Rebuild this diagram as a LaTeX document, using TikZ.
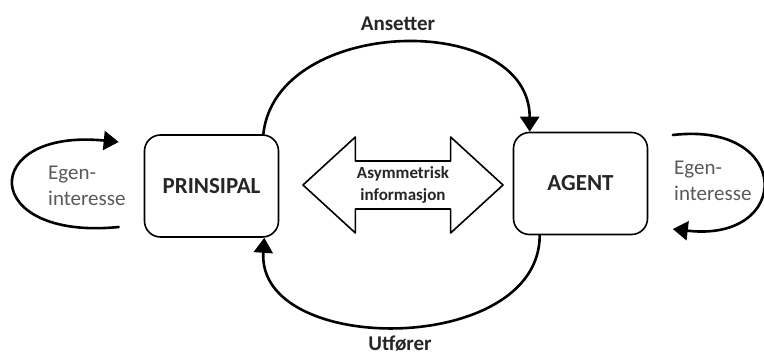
\documentclass[tikz,border=0pt]{standalone}
\usepackage{fontspec}
\setmainfont{Carlito}
\usetikzlibrary{arrows.meta,shapes.arrows}

\begin{document}
\begin{tikzpicture}[x=1pt, y=1pt, line join=round, line cap=round,
  >={Triangle[length=15pt,width=19pt]},
  party/.style={draw, line width=1.6pt, rounded corners=16pt, minimum width=134pt, minimum height=102pt,
    text=black!85, font=\fontsize{23}{27}\selectfont\bfseries},
  flow/.style={->, line width=2.6pt},
  flowlabel/.style={text=black!85, font=\fontsize{21}{25}\selectfont\bfseries},
  egen/.style={align=left, inner sep=0pt, text=black!65, font=\fontsize{21}{26}\selectfont}]
	\useasboundingbox (0,0) rectangle (764,356);
	\node[party] (prinsipal) at (211.5,170) {PRINSIPAL};
	\node[party] (agent) at (580.5,172.5) {AGENT};
	\node[double arrow, draw, line width=1.6pt, minimum height=200pt, minimum width=96pt,
	  double arrow head extend=22.5pt, double arrow tip angle=85, align=center,
	  text=black!85, font=\fontsize{17}{22}\selectfont\bfseries] (info) at (403,171) {Asymmetrisk\\informasjon};
	\node[flowlabel] (ansetter) at (398,332) {Ansetter};
	\node[flowlabel, anchor=base, inner sep=1pt] (utforer) at (400,5) {Utfører};
	\node[egen, anchor=west] (egenp) at (48,170.5) {Egen-\\interesse};
	\node[egen, anchor=west] (egena) at (674,175.5) {Egen-\\interesse};
	\coordinate (lstart) at ([xshift=-25pt,yshift=-41pt]prinsipal.west);
	\coordinate (lend) at ([xshift=-25pt,yshift=44pt]prinsipal.west);
	\coordinate (rstart) at ([xshift=24.5pt,yshift=48.5pt]agent.east);
	\coordinate (rend) at ([xshift=24.5pt,yshift=-45.5pt]agent.east);
	\draw[flow] ([xshift=-16pt]prinsipal.north east) .. controls +(13,119) and +(0,121) .. ([xshift=17pt]agent.north west);
	\draw[flow] ([xshift=27pt]agent.south west) .. controls +(0,-121) and +(-8,-119) .. ([xshift=-15pt]prinsipal.south east);
	\draw[flow] (lstart) .. controls +(-140,-14) and +(-140,14) .. (lend);
	\draw[flow] (rstart) .. controls +(120,14) and +(120,-14) .. (rend);
\end{tikzpicture}
\end{document}
